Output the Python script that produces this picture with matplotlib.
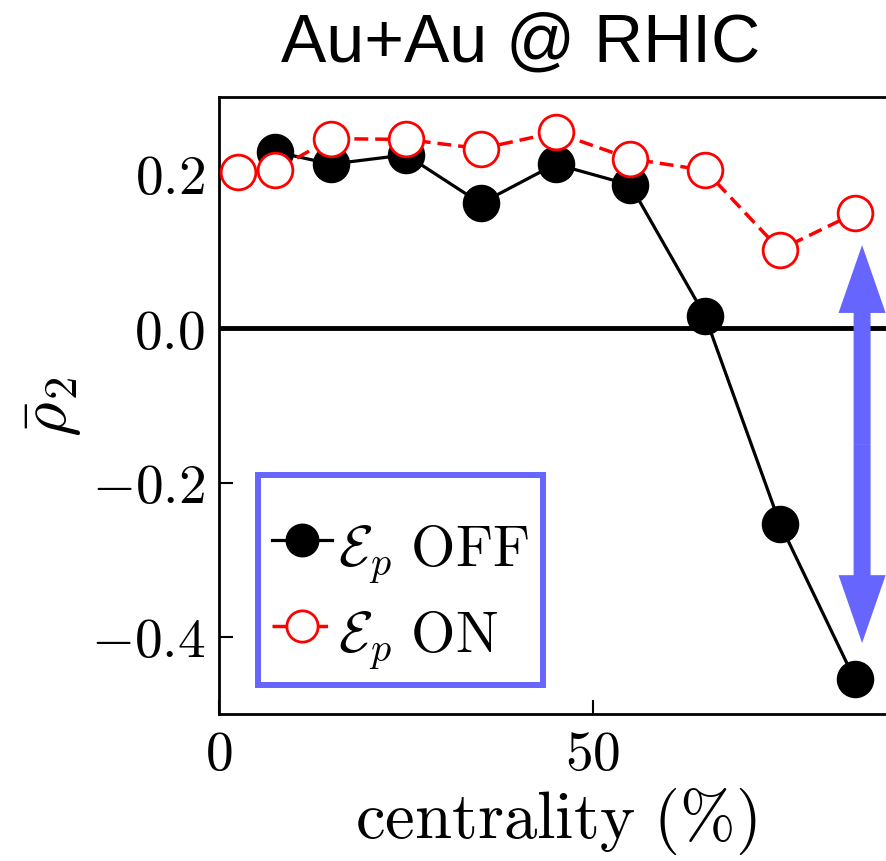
import matplotlib
matplotlib.use('Agg')
import matplotlib.pyplot as plt
import matplotlib.patches as mpatches

plt.rcParams['mathtext.fontset'] = 'cm'
plt.rcParams['font.family'] = 'serif'
plt.rcParams['font.serif'] = ['cmr10', 'DejaVu Serif']
plt.rcParams['axes.unicode_minus'] = True

# centrality bins (%)
cent_off = [7.5, 15, 25, 35, 45, 55, 65, 75, 85]
rho_off = [0.229, 0.213, 0.225, 0.162, 0.213, 0.186, 0.016, -0.253, -0.455]

cent_on = [2.5, 7.5, 15, 25, 35, 45, 55, 65, 75, 85]
rho_on = [0.203, 0.205, 0.246, 0.245, 0.233, 0.254, 0.220, 0.205, 0.102, 0.149]

# double arrow marking the gap at the most peripheral bin
arrow_x = 86
arrow_top = 0.108
arrow_bottom = -0.408

xticks = [0, 50]
yticks = [-0.4, -0.2, 0.0, 0.2]
arrow_color = '#6666ff'

fig = plt.figure(figsize=(8.86, 8.62), dpi=100)
ax = fig.add_axes([219 / 886, 147 / 862, 673 / 886, 617 / 862])

ax.axhline(0, color='black', lw=3.5, zorder=1)

ax.plot(cent_off, rho_off, color='black', marker='o', ms=26, lw=2.3,
        label=r'$\mathcal{E}_p\ \mathrm{OFF}$', zorder=3)
ax.plot(cent_on, rho_on, color='red', marker='o', ms=25, mfc='white', mew=2,
        lw=2.5, linestyle=(0, (4, 2)), label=r'$\mathcal{E}_p\ \mathrm{ON}$',
        zorder=4, clip_on=False)

# arrow drawn as two halves from the middle
mid = (arrow_top + arrow_bottom) / 2
for end in (arrow_top, arrow_bottom):
    ax.add_patch(mpatches.FancyArrow(arrow_x, mid, 0, end - mid, width=2.27,
                                     head_width=6.3, head_length=0.088,
                                     length_includes_head=True,
                                     color=arrow_color, lw=0, zorder=5,
                                     clip_on=False))

ax.set_xlim(0, 90)
ax.set_ylim(-0.5, 0.3)
ax.set_xticks(xticks)
ax.set_xticklabels([f'${t}$' for t in xticks])
ax.set_yticks(yticks)
ax.set_yticklabels([f'${t:.1f}$' for t in yticks])
ax.tick_params(direction='in', length=10, width=1.5, labelsize=40)
ax.tick_params(axis='x', pad=12)
ax.tick_params(axis='y', pad=10)
for s in ax.spines.values():
    s.set_linewidth(2)

ax.set_xlabel(r'$\mathrm{centrality\ (\%)}$', fontsize=48)
ax.xaxis.set_label_coords(0.5, -0.115)
ax.set_ylabel(r'$\bar{\rho}_2$', fontsize=48)
ax.yaxis.set_label_coords(-0.2, 0.5)

# blank small title gives the extra room above the first entry
leg = ax.legend(loc='lower left', bbox_to_anchor=(0.058, 0.047), borderaxespad=0,
                fontsize=41, fancybox=False, handlelength=1.05, handletextpad=0.1,
                handleheight=1.25, markerscale=0.9, borderpad=0.25,
                labelspacing=0.3, title=' ', title_fontsize=8)
leg.get_frame().set_edgecolor(arrow_color)
leg.get_frame().set_linewidth(4.3)
leg.get_frame().set_alpha(1)

fig.text(521 / 886, 1 - 62 / 862, 'Au+Au @ RHIC', ha='center', va='baseline',
         fontsize=49, family='Liberation Sans')

fig.savefig('out.png', dpi=100, facecolor='white')
